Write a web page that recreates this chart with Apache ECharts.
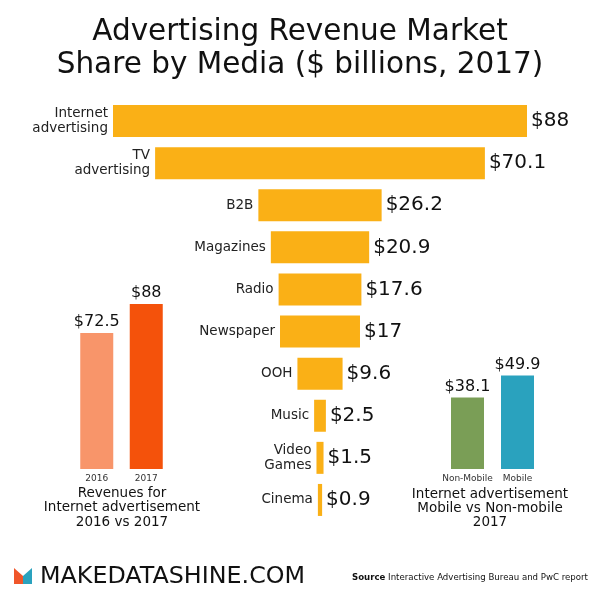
<!DOCTYPE html>
<html>
<head>
<meta charset="utf-8">
<script src="https://cdn.jsdelivr.net/npm/echarts@6/dist/echarts.min.js"></script>
<style>html,body{margin:0;padding:0;background:#fff}#c{width:600px;height:600px}</style>
</head>
<body>
<div id="c"></div>
<script>
var categories = ['Internet\nadvertising','TV\nadvertising','B2B','Magazines','Radio','Newspaper','OOH','Music','Video\nGames','Cinema'];
var values = [88, 70.1, 26.2, 20.9, 17.6, 17, 9.6, 2.5, 1.5, 0.9];

var yearCats = ['2016','2017'];
var yearValues = [72.5, 88];
var yearColors = ['#F8956A','#F4520B'];

var mobileCats = ['Non-Mobile','Mobile'];
var mobileValues = [38.1, 49.9];
var mobileColors = ['#7A9E56','#2AA2BE'];

var FONT = 'DejaVu Sans';
var MAX = Math.max.apply(null, values);
var offsets = values.map(function(v){ return (MAX - v) / 2; });

var chart = echarts.init(document.getElementById('c'), null, {renderer:'canvas'});
chart.setOption({
  backgroundColor: '#ffffff',
  animation: false,
  textStyle: {fontFamily: FONT},
  title: {
    text: 'Advertising Revenue Market\nShare by Media ($ billions, 2017)',
    left: 'center', top: 11,
    textStyle: {fontFamily: FONT, fontSize: 29.5, lineHeight: 33, fontWeight: 'normal', color: '#111', align: 'center'}
  },
  grid: [
    {left: 113, width: 414, top: 100, height: 421},
    {left: 72, width: 99, top: 281.5, height: 187.5},
    {left: 442.5, width: 100, top: 281.5, height: 187.5}
  ],
  xAxis: [
    {gridIndex: 0, type: 'value', min: 0, max: MAX, show: false},
    {gridIndex: 1, type: 'category', data: yearCats, axisLine:{show:false}, axisTick:{show:false},
     axisLabel:{interval: 0, fontSize: 9, color:'#333', margin: 5, fontFamily: FONT}},
    {gridIndex: 2, type: 'category', data: mobileCats, axisLine:{show:false}, axisTick:{show:false},
     axisLabel:{interval: 0, fontSize: 9, color:'#333', margin: 5, fontFamily: FONT}}
  ],
  yAxis: [
    {gridIndex: 0, type: 'category', data: categories, inverse: true, show: false},
    {gridIndex: 1, type: 'value', min: 0, max: 100, show: false},
    {gridIndex: 2, type: 'value', min: 0, max: 100, show: false}
  ],
  series: [
    {
      type: 'bar', xAxisIndex: 0, yAxisIndex: 0, stack: 'f',
      data: offsets, barCategoryGap: '24%',
      itemStyle: {color: 'rgba(0,0,0,0)'},
      label: {show: true, position: 'insideRight', distance: 5,
        formatter: function(p){ return categories[p.dataIndex]; },
        fontSize: 13.5, lineHeight: 15, color: '#222', align: 'right', fontFamily: FONT},
      silent: true
    },
    {
      type: 'bar', xAxisIndex: 0, yAxisIndex: 0, stack: 'f',
      data: values, barCategoryGap: '24%',
      itemStyle: {color: '#FAB016'},
      label: {show: true, position: 'right', distance: 4,
        formatter: function(p){ return '$' + p.value; },
        fontSize: 20, color: '#111', fontFamily: FONT}
    },
    {
      type: 'bar', xAxisIndex: 1, yAxisIndex: 1, barWidth: 33,
      data: yearValues.map(function(v, i){ return {value: v, itemStyle: {color: yearColors[i]}}; }),
      label: {show: true, position: 'top', distance: 3,
        formatter: function(p){ return '$' + p.value; },
        fontSize: 16, color: '#111', fontFamily: FONT}
    },
    {
      type: 'bar', xAxisIndex: 2, yAxisIndex: 2, barWidth: 33,
      data: mobileValues.map(function(v, i){ return {value: v, itemStyle: {color: mobileColors[i]}}; }),
      label: {show: true, position: 'top', distance: 3,
        formatter: function(p){ return '$' + p.value; },
        fontSize: 16, color: '#111', fontFamily: FONT}
    }
  ],
  graphic: [
    {type: 'text', x: 122, y: 486, style: {text: 'Revenues for\nInternet advertisement\n2016 vs 2017',
      align: 'center', verticalAlign: 'top', fontSize: 13.5, lineHeight: 14.5, fill: '#111', fontFamily: FONT}},
    {type: 'text', x: 490, y: 487, style: {text: 'Internet advertisement\nMobile vs Non-mobile\n2017',
      align: 'center', verticalAlign: 'top', fontSize: 13.5, lineHeight: 14, fill: '#111', fontFamily: FONT}},
    {type: 'polygon', shape: {points: [[14,568],[23,576],[23,584],[14,584]]}, style: {fill: '#F0562A'}},
    {type: 'polygon', shape: {points: [[23,576],[32,568],[32,584],[23,584]]}, style: {fill: '#2AA2BE'}},
    {type: 'text', x: 40, y: 577, style: {text: 'MAKEDATASHINE.COM', verticalAlign: 'middle',
      fontSize: 23.8, fill: '#111', fontFamily: FONT}},
    {type: 'text', x: 352, y: 578, style: {
      text: '{b|Source} Interactive Advertising Bureau and PwC report', verticalAlign: 'middle',
      fontSize: 8.6, fill: '#111', fontFamily: FONT,
      rich: {b: {fontWeight: 'bold', fontSize: 8.6, fontFamily: FONT}}}}
  ]
});
</script>
</body>
</html>
